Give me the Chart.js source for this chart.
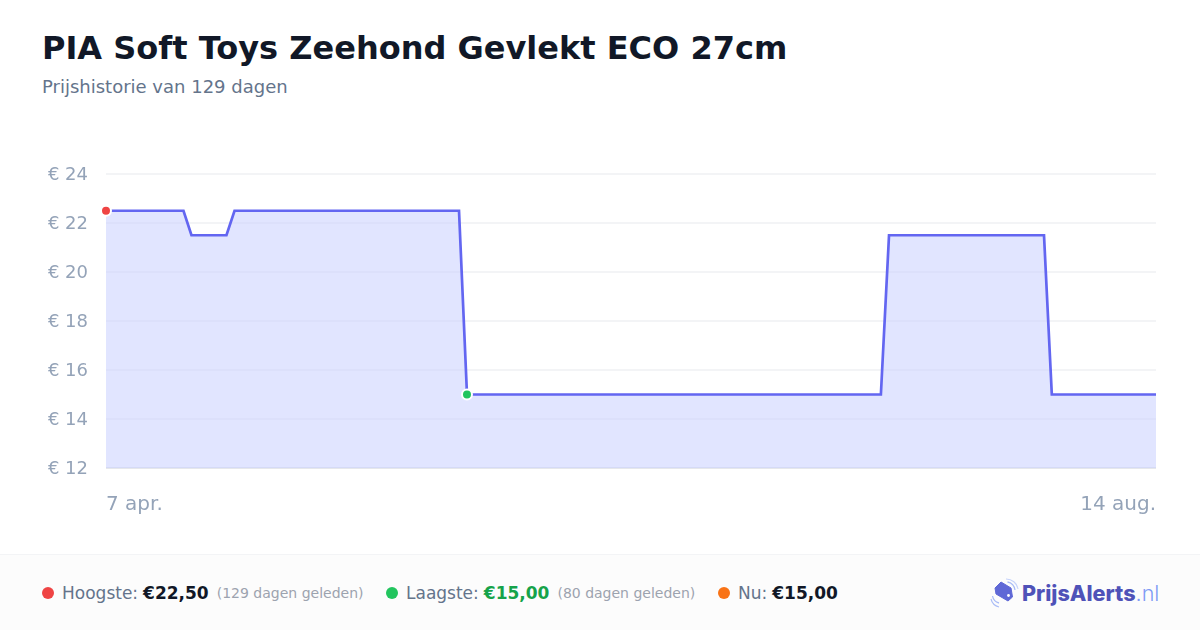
<!DOCTYPE html>
<html lang="nl">
<head>
<meta charset="utf-8">
<title>PIA Soft Toys Zeehond Gevlekt ECO 27cm</title>
<script src="https://cdn.jsdelivr.net/npm/chart.js@4"></script>
<style>
  html, body { margin: 0; padding: 0; background: #fff; }
  body { width: 1200px; height: 630px; position: relative; overflow: hidden; font-family: "DejaVu Sans", sans-serif; }
  h1 { position: absolute; left: 42px; top: 28px; margin: 0; font-size: 32px; line-height: 40px; font-weight: 700; color: #111827; white-space: nowrap; }
  .sub { position: absolute; left: 42px; top: 76px; font-size: 18px; line-height: 22px; color: #64748b; white-space: nowrap; }
  #chart { position: absolute; left: 0; top: 150px; }
  .footer { position: absolute; left: 0; top: 554px; width: 1200px; height: 76px; background: #fcfcfc; border-top: 1px solid #f3f4f6; box-sizing: border-box; }
  .stat { position: absolute; top: 0; height: 75px; display: flex; align-items: center; white-space: nowrap; font-size: 17px; color: #64748b; }
  .dot { width: 12px; height: 12px; border-radius: 50%; margin-right: 8px; }
  .stat b { font-size: 17px; color: #111827; margin-left: 5px; }
  .stat small { font-size: 14px; color: #9ca3af; margin-left: 8px; }
  .logo { position: absolute; left: 990px; top: 20px; height: 36px; display: flex; align-items: center; font-family: Inter, sans-serif; font-size: 21.6px; white-space: nowrap; }
  .logo svg { margin-right: 3px; }
  .logo b { color: #4f52b8; font-weight: 800; }
  .logo span { color: #7f9bf5; font-weight: 300; }
</style>
</head>
<body>
<h1>PIA Soft Toys Zeehond Gevlekt ECO 27cm</h1>
<div class="sub">Prijshistorie van 129 dagen</div>
<canvas id="chart" width="1200" height="380"></canvas>
<div class="footer">
  <div class="stat" style="left:42px"><i class="dot" style="background:#ef4444"></i>Hoogste:<b>€22,50</b><small>(129 dagen geleden)</small></div>
  <div class="stat" style="left:386px"><i class="dot" style="background:#22c55e"></i>Laagste:<b style="color:#16a34a">€15,00</b><small>(80 dagen geleden)</small></div>
  <div class="stat" style="left:718px"><i class="dot" style="background:#f97316"></i>Nu:<b>€15,00</b></div>
  <div class="logo">
    <svg width="29" height="30" viewBox="0 0 29 30" fill="none">
      <path d="M11 4 L21 10 L22.5 19 L18 23 L6 16 L5 10 Z" fill="#5f68d6" stroke="#5f68d6" stroke-linejoin="round"/>
      <circle cx="18.5" cy="17.5" r="1.4" fill="#fff"/>
      <path d="M17.5 4 A9 9 0 0 1 25 12" stroke="#a9bcf7" stroke-width="1.3"/>
      <path d="M16 1 A12 12 0 0 1 28 11" stroke="#c6d3fa" stroke-width="1.1"/>
      <path d="M2.5 18 A9 9 0 0 0 9 25" stroke="#a9bcf7" stroke-width="1.3"/>
      <path d="M1 21 A11 11 0 0 0 9 29" stroke="#a9bcf7" stroke-width="1.1"/>
    </svg>
    <b>PrijsAlerts</b><span>.nl</span>
  </div>
</div>
<script>
// dagen sinds 7 apr. waarop de prijs wijzigt
const days = [0, 9.52, 10.5, 14.8, 15.79, 43.37, 44.35, 95.2, 96.2, 115.24, 116.2, 129];
const prices = [22.5, 22.5, 21.5, 21.5, 22.5, 22.5, 15, 15, 21.5, 21.5, 15, 15];
const yTicks = [12, 14, 16, 18, 20, 22, 24];
const xLabels = {0: '7 apr.', 129: '14 aug.'};
const highPoint = [{x: 0, y: 22.5}];
const lowPoint = [{x: 44.35, y: 15}];

const points = days.map((d, i) => ({x: d, y: prices[i]}));

function marker(data, color) {
    return {
        data: data,
        showLine: false,
        pointRadius: 5,
        pointBackgroundColor: color,
        pointBorderColor: '#ffffff',
        pointBorderWidth: 2,
        clip: false
    };
}

new Chart(document.getElementById('chart'), {
    type: 'line',
    data: {
        datasets: [
            marker(highPoint, '#ef4444'),
            marker(lowPoint, '#22c55e'),
            {
                data: points,
                borderColor: '#6366f1',
                borderWidth: 2.7,
                backgroundColor: 'rgba(200,207,255,0.55)',
                fill: 'start',
                pointRadius: 0,
                tension: 0,
                clip: false
            }
        ]
    },
    options: {
        responsive: false,
        animation: false,
        layout: {padding: {top: 24, right: 44, left: 0, bottom: 0}},
        plugins: {legend: {display: false}, tooltip: {enabled: false}},
        scales: {
            x: {
                type: 'linear',
                min: 0,
                max: 129,
                border: {display: false},
                grid: {display: false, drawTicks: false},
                afterBuildTicks: axis => { axis.ticks = [{value: 0}, {value: 129}] },
                afterFit: axis => { axis.height = 62 },
                ticks: {
                    align: 'inner',
                    maxRotation: 0,
                    padding: 25,
                    color: '#94a3b8',
                    font: {family: 'DejaVu Sans', size: 20},
                    callback: v => xLabels[v]
                }
            },
            y: {
                min: 12,
                max: 24,
                border: {display: false},
                grid: {
                    drawTicks: false,
                    lineWidth: 2,
                    color: c => c.tick.value === 12 ? '#e5e7eb' : '#f3f4f6'
                },
                afterBuildTicks: axis => { axis.ticks = yTicks.map(v => ({value: v})) },
                afterFit: axis => { axis.width = 106; axis.paddingTop = 0 },
                ticks: {
                    padding: 18,
                    labelOffset: 1,
                    color: '#94a3b8',
                    font: {family: 'DejaVu Sans', size: 18},
                    callback: v => '€ ' + v
                }
            }
        }
    }
});
</script>
</body>
</html>
